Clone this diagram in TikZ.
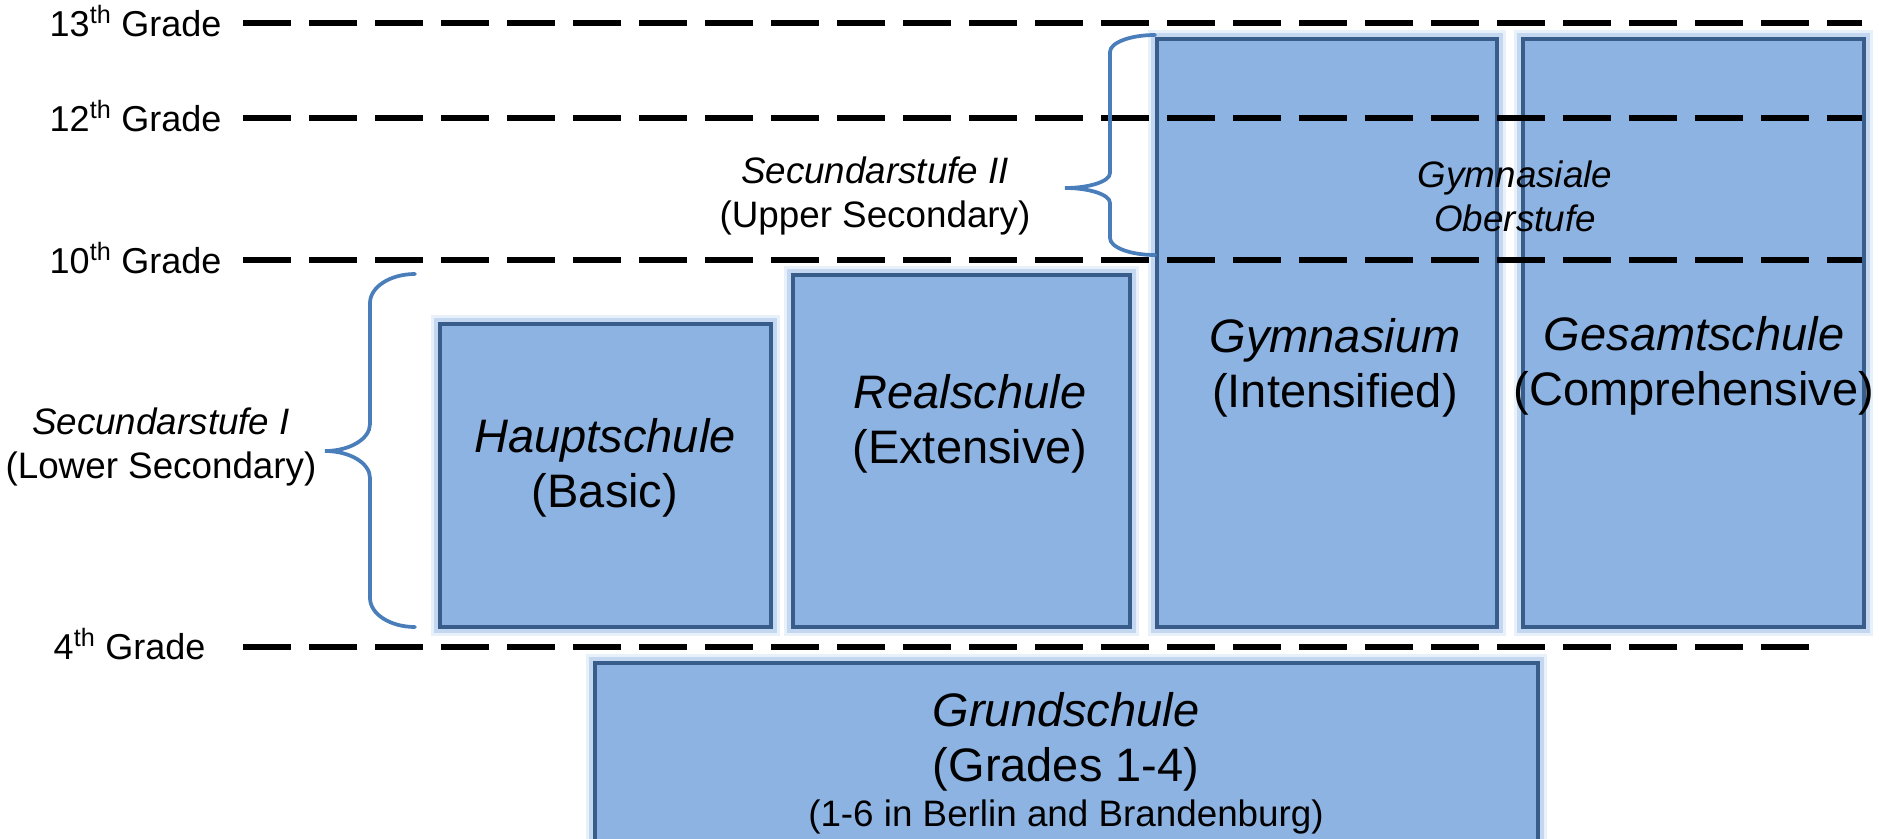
\documentclass[tikz,border=0pt]{standalone}
\usepackage{fontspec}
\setmainfont{Liberation Sans}
\usetikzlibrary{fit}

\definecolor{boxfill}{RGB}{141,179,226}
\definecolor{boxborder}{RGB}{56,93,138}
\definecolor{bracecol}{RGB}{74,126,187}

\tikzset{every picture/.style={line width=0.75pt}}
\tikzset{
  schoolbox/.style={draw=boxborder, line width=3pt, fill=boxfill, inner sep=0pt,
    preaction={draw=boxfill, draw opacity=.2, line width=14pt},
    preaction={draw=boxfill, draw opacity=.4, line width=9pt}},
  gradeline/.style={line width=4pt, dash pattern=on 36pt off 13.5pt},
  gradelabel/.style={anchor=base east, inner sep=0pt, font=\fontsize{27}{32}\selectfont},
  bigtext/.style={align=center, inner sep=0pt, font=\fontsize{35.25}{41}\selectfont},
  smalltext/.style={align=center, inner sep=0pt, font=\fontsize{27.6}{33}\selectfont},
  stufebrace/.style={draw=bracecol, line width=2.8pt, line cap=round}
}

\begin{document}
\begin{tikzpicture}[x=0.75pt,y=0.75pt,yscale=-1,xscale=1]
\useasboundingbox (0,0) rectangle (1879,839);

%Shape: Rectangle
\node[schoolbox, fit={(440,324) (771,627)}] (haupt) {};
%Shape: Rectangle
\node[schoolbox, fit={(793,275) (1130,627)}] (real) {};
%Shape: Rectangle
\node[schoolbox, fit={(1157,39) (1497,627)}] (gym) {};
%Shape: Rectangle
\node[schoolbox, fit={(1523,39) (1864,627)}] (gesamt) {};
%Shape: Rectangle
\node[schoolbox, fit={(595,663) (1538,870)}] (grund) {};

%Straight Lines
\coordinate (l13a) at (243,23);
\coordinate (l13b) at (1862,23);
\draw[gradeline] (l13a) -- (l13b);
%Straight Lines
\coordinate (l12a) at (243,118);
\coordinate (l12b) at (1862,118);
\draw[gradeline] (l12a) -- (l12b);
%Straight Lines
\coordinate (l10a) at (243,260);
\coordinate (l10b) at (1862,260);
\draw[gradeline] (l10a) -- (l10b);
%Straight Lines
\coordinate (l4a) at (243,647);
\coordinate (l4b) at (1812,647);
\draw[gradeline] (l4a) -- (l4b);

%Shape: Left Brace
\draw[stufebrace] (415,274) .. controls (390.2,274) and (370,287) .. (370,303) -- (370,424)
  .. controls (370,438.9) and (349.8,451) .. (325,451)
  .. controls (349.8,451) and (370,463.1) .. (370,478) -- (370,598)
  .. controls (370,614) and (390.2,627) .. (415,627) ;
%Shape: Left Brace
\draw[stufebrace] (1155,35) .. controls (1130.2,35) and (1110,42.6) .. (1110,52) -- (1110,173)
  .. controls (1110,181.3) and (1089.8,188) .. (1065,188)
  .. controls (1089.8,188) and (1110,194.7) .. (1110,203) -- (1110,238)
  .. controls (1110,247.4) and (1130.2,255) .. (1155,255) ;

\node[gradelabel] (gr13) at (222,36) {13\textsuperscript{th} Grade};
\node[gradelabel] (gr12) at (222,131) {12\textsuperscript{th} Grade};
\node[gradelabel] (gr10) at (222,273) {10\textsuperscript{th} Grade};
\node[gradelabel] (gr4) at (206,659) {4\textsuperscript{th} Grade};

\node[smalltext] (stufeone) at (161,447) {\textit{Secundarstufe I}\\(Lower Secondary)};
\node[smalltext] (stufetwo) at (875,196) {\textit{Secundarstufe II}\\(Upper Secondary)};
\node[smalltext] (oberstufe) at (1515,196) {\textit{Gymnasiale}\\\textit{Oberstufe}};

\node[bigtext] (hauptname) at (605,468) {\textit{Hauptschule}\\(Basic)};
\node[bigtext] (realname) at (970,424) {\textit{Realschule}\\(Extensive)};
\node[bigtext] (gymname) at (1335,368) {\textit{Gymnasium}\\(Intensified)};
\node[bigtext] (gesname) at (1694,366) {\textit{Gesamtschule}\\(Comprehensive)};
\node[bigtext] (grundname) at (1066,742) {\textit{Grundschule}\\(Grades 1-4)};
\node[smalltext] (grundnote) at (1066,817) {(1-6 in Berlin and Brandenburg)};

\end{tikzpicture}
\end{document}
